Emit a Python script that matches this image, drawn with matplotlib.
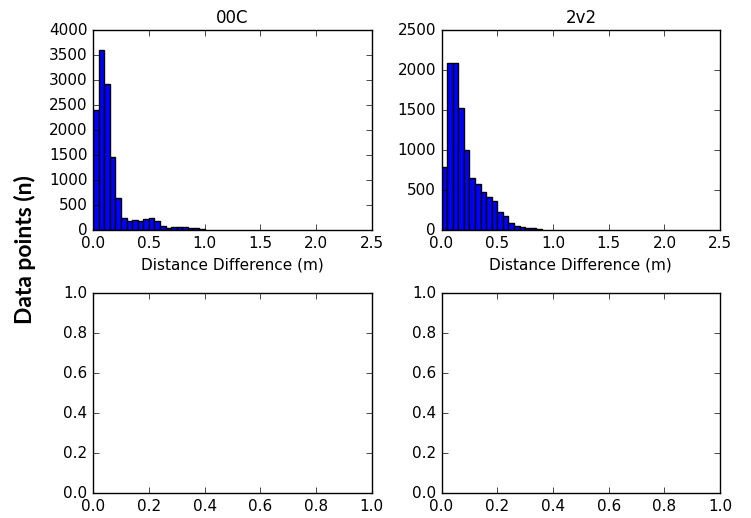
import numpy as np
import matplotlib
matplotlib.use('Agg')
import matplotlib.pyplot as plt

plt.style.use('classic')

# histogram counts, bins of 0.05 m starting at 0
bin_width = 0.05
counts_00c = [2400, 3600, 2920, 1460, 640, 240, 190, 210, 190, 225,
              245, 180, 80, 45, 60, 60, 60, 45, 45, 20]
counts_2v2 = [790, 2090, 2090, 1530, 1000, 655, 580, 480, 410, 365,
              228, 178, 87, 45, 40, 30, 25, 8]
titles = ['00C', '2v2']

fig, axes = plt.subplots(2, 2, figsize=(7.51, 5.18), dpi=100)
fig.patch.set_facecolor('white')
fig.subplots_adjust(left=0.124, right=0.959, top=0.942, bottom=0.048,
                    wspace=0.25, hspace=0.315)

for ax, counts, title in zip(axes[0], [counts_00c, counts_2v2], titles):
    edges = np.arange(len(counts)) * bin_width
    ax.bar(edges, counts, width=bin_width, align='edge', color='b', edgecolor='k')
    ax.set_xlim(0, 2.5)
    ax.set_title(title, fontsize=12)
    ax.set_xlabel('Distance Difference (m)', fontsize=11)
    ax.tick_params(labelsize=11)

axes[0, 0].set_ylim(0, 4000)
axes[0, 1].set_ylim(0, 2500)

for ax in axes[1]:
    ax.tick_params(labelsize=11)

fig.text(0.033, 0.519, 'Data points (n)', rotation=90, va='center', ha='center',
         fontsize=16.5, fontweight='bold', family=['Lato', 'DejaVu Sans'])

fig.savefig('out.png', dpi=100, facecolor='white')
